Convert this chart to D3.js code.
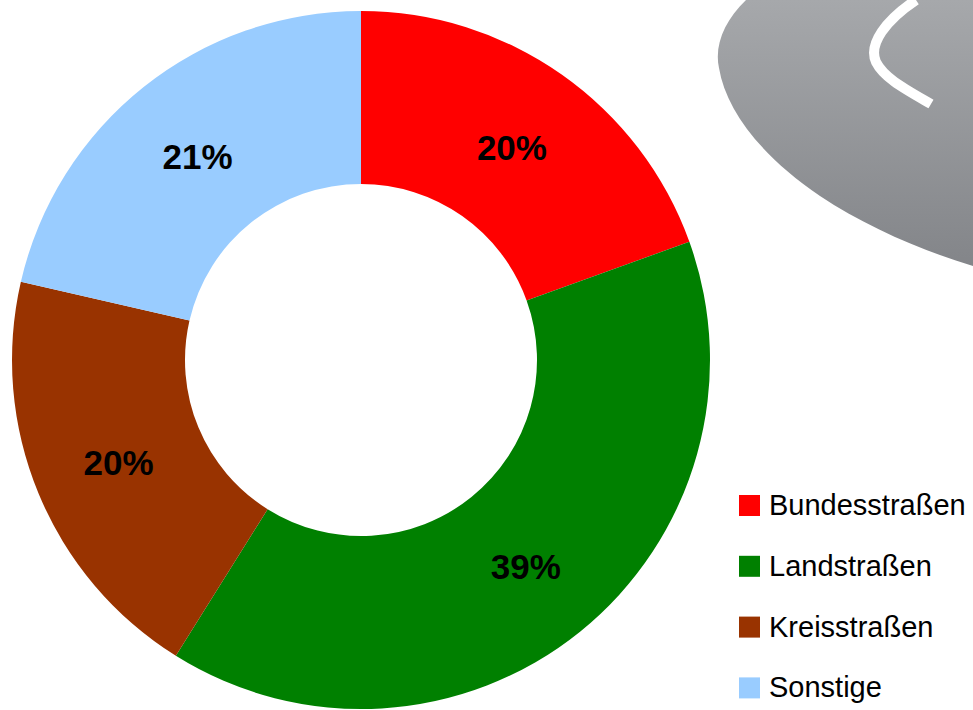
<!DOCTYPE html>
<html><head><meta charset="utf-8">
<script src="https://cdn.jsdelivr.net/npm/d3@7"></script>
<style>html,body{margin:0;padding:0;background:#fff;}svg{display:block;}</style>
</head><body>
<svg id="chart" width="973" height="710"></svg>
<script>
const categories = ["Bundesstraßen", "Landstraßen", "Kreisstraßen", "Sonstige"];
const values = [19.5, 39.4, 19.7, 21.4];
const labels = ["20%", "39%", "20%", "21%"];
const colors = ["#FF0000", "#008000", "#993300", "#99CCFF"];

const svg = d3.select("#chart");
const cx = 361, cy = 360, R = 349, r0 = 176;

// decorative logo fragment (top right)
const defs = svg.append("defs");
const grad = defs.append("linearGradient").attr("id", "lg").attr("x1", 0).attr("y1", 0).attr("x2", 0).attr("y2", 1);
grad.append("stop").attr("offset", "0%").attr("stop-color", "#a6a8ab");
grad.append("stop").attr("offset", "100%").attr("stop-color", "#838589");
const logo = svg.append("g");
logo.append("path")
  .attr("d", "M746,0 C725,20 714,45 719,68 C726,110 760,155 820,196 C865,226 920,250 973,266 L973,0 Z")
  .attr("fill", "url(#lg)");
logo.append("path")
  .attr("d", "M916,0 C886,20 868,44 876,62 C884,78 905,89 931,104")
  .attr("fill", "none").attr("stroke", "#fff").attr("stroke-width", 10);

// donut
const pie = d3.pie().sort(null).value(d => d)(values);
const arc = d3.arc().innerRadius(r0).outerRadius(R);
const g = svg.append("g").attr("transform", `translate(${cx},${cy})`);
g.selectAll("path.slice").data(pie).join("path")
  .attr("class", "slice")
  .attr("d", arc)
  .attr("fill", (d, i) => colors[i]);

g.selectAll("text.lbl").data(pie).join("text")
  .attr("class", "lbl")
  .attr("transform", d => { const c = arc.centroid(d); return `translate(${c[0]},${c[1]})`; })
  .attr("text-anchor", "middle")
  .attr("dy", "0.42em")
  .attr("font-family", "Liberation Sans, Arial, sans-serif")
  .attr("font-weight", "bold")
  .attr("font-size", 35)
  .attr("fill", "#000")
  .text((d, i) => labels[i]);

// legend
const leg = svg.append("g").attr("transform", "translate(739,495)");
const row = leg.selectAll("g").data(categories).join("g")
  .attr("transform", (d, i) => `translate(0,${i * 60.8})`);
row.append("rect").attr("width", 21).attr("height", 21).attr("fill", (d, i) => colors[i]);
row.append("text").attr("x", 30).attr("y", 20)
  .attr("font-family", "Liberation Sans, Arial, sans-serif")
  .attr("font-size", 29).attr("fill", "#000")
  .text(d => d);
</script>
</body></html>
